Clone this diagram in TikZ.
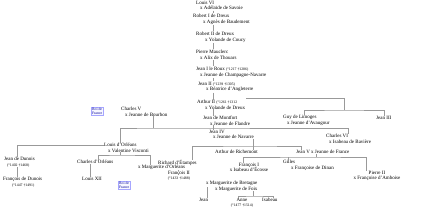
\documentclass[tikz,border=0pt]{standalone}
\usepackage{fontspec}
\setmainfont{Liberation Serif}
\begin{document}
\begin{tikzpicture}[x=1pt,y=-1pt,
  person/.style={font=\fontsize{5}{5.4}\selectfont,align=left,inner sep=0pt,anchor=north west,text=black},
  cperson/.style={font=\fontsize{5}{5.4}\selectfont,align=center,inner sep=0pt,anchor=north,text=black},
  roi/.style={draw=blue!35,fill=blue!3,text=blue!60!black,font=\fontsize{3.8}{4}\selectfont,align=center,inner sep=0.8pt,anchor=north west},
  link/.style={draw=black!40,line width=0.55pt}]
\useasboundingbox (0,0) rectangle (422,211);
\newcommand{\dt}[1]{{\fontsize{3.8}{3.8}\selectfont #1}}
% main chain
\node[person] (louis) at (196,1) {Louis VI\\\hspace*{4pt}x Adélaïde de Savoie};
\node[person] (rob1) at (193,14) {Robert I de Dreux\\\hspace*{10pt}x Agnès de Baudement};
\node[person] (rob2) at (196,32) {Robert II de Dreux\\\hspace*{9pt}x Yolande de Coucy};
\node[person] (pierre) at (196,50) {Pierre Mauclerc\\\hspace*{4pt}x Alix de Thouars};
\node[person] (jean1) at (196,67) {Jean I le Roux \dt{(°1217 †1286)}\\\hspace*{4pt}x Jeanne de Champagne-Navarre};
\node[person] (jean2) at (198,82) {Jean II \dt{(°1239 †1305)}\\\hspace*{8pt}x Béatrice d'Angleterre};
\node[person] (arthur) at (197,100) {Arthur II \dt{(°1261 †1312}\\\hspace*{8pt}x Yolande de Dreux};
\coordinate (cx) at (213,0);
\foreach \a/\b in {louis/rob1,rob1/rob2,rob2/pierre,pierre/jean1,jean1/jean2,jean2/arthur}
  \draw[link] ([yshift=-0.5pt]\a.south -| cx) -- ([yshift=0.5pt]\b.north -| cx);
% Arthur II right branch
\node[person] (guy) at (283,115) {Guy de Limoges\\\hspace*{4pt}x Jeanne d'Avaugour};
\node[person] (jean3) at (376,116) {Jean III};
\coordinate (bra) at (344,110);
\draw[link] ([xshift=1pt,yshift=2pt]arthur.north east) -| (bra);
\draw[link] (guy.north -| 304,0) |- (bra) -| (jean3.north -| 384,0);
% Charles V
\node[roi] (roi1) at (91,107) {Roi de\\France};
\node[person] (charles5) at (121,107) {Charles V\\\hspace*{4pt}x Jeanne de Bourbon};
\node[person] (montfort) at (203,116) {Jean de Montfort\\\hspace*{7pt}x Jeanne de Flandre};
\draw[link] (arthur.south -| cx) -- (montfort.north -| cx);
\node[person] (jean4) at (209,130) {Jean IV\\\hspace*{4pt}x Jeanne de Navarre};
\draw[link] (montfort.south -| cx) -- (jean4.north -| cx);
\node[person] (charles6) at (326,134) {Charles VI\\\hspace*{3pt}x Isabeau de Bavière};
\node[person] (louisorl) at (104,143) {Louis d'Orléans\\\hspace*{4pt}x Valentine Visconti};
\coordinate (c5) at (153,128);
\draw[link] (charles5.south -| c5) -- (c5);
\draw[link] (louisorl.north -| 120,0) |- (c5) -| (charles6.north -| 348,0);
% Dunois
\node[person] (dunois1) at (4,157) {Jean de Dunois\\\hspace*{3pt}\dt{(°1402 †1468)}};
\node[person] (dunois2) at (3,177) {François de Dunois\\\hspace*{9pt}\dt{(°1447 †1491)}};
\draw[link] ([yshift=-2.5pt]louisorl.north west) -| (dunois1.north -| 17,0);
\draw[link] (dunois1.south -| 17,0) -- (dunois2.north -| 17,0);
% Louis d'Orleans children
\node[person] (charlesorl) at (77,160) {Charles d'Orléans};
\node[person] (louis12) at (82,177) {Louis XII};
\node[roi] (roi2) at (118,181) {Roi de\\France};
\node[person] (richard) at (158,160) {Richard d'Étampes};
\node[person] (margorl) at (138,165) {x Marguerite d'Orléans};
\coordinate (lo) at (120,155);
\draw[link] (louisorl.south -| lo) -- (lo);
\draw[link] (charlesorl.north -| 98,0) |- (lo) -| (margorl.north -| 150,0);
\draw[link] (charlesorl.south -| 90,0) -- (louis12.north -| 90,0);
% Jean IV children
\node[person] (richemont) at (215,150) {Arthur de Richemont};
\node[person] (jean5) at (296,150) {Jean V x Jeanne de France};
\coordinate (j4) at (253,146);
\draw[link] (jean4.south -| j4) -- (richemont.north -| j4);
\draw[link] (richard.north -| 192,0) |- (j4) -| (jean5.north -| 301,0);
% Jean V children
\node[cperson] (francois1) at (249,163) {François I\\x Isabeau d'Écosse};
\node[person] (gilles) at (283,160) {Gilles\\\hspace*{8pt}x Françoise de Dinan};
\node[cperson] (pierre2) at (377,171) {Pierre II\\x Françoise d'Amboise};
\coordinate (j5) at (316,157);
\draw[link] (jean5.south -| j5) -- (j5);
\draw[link] (francois1.north -| 243,0) |- (j5) -| (pierre2.north -| 366,0);
\draw[link] (gilles.north -| 288,0) -- (288,157);
% Francois II
\node[cperson] (francois2) at (179,171) {François II\\\dt{(°1433 †1488)}};
\draw[link] (margorl.south -| 178,0) -- (francois2.north -| 178,0);
\node[person] (margs) at (206,181) {x Marguerite de Bretagne\\\hspace*{9pt}x Marguerite de Foix};
\node[person] (jeanb) at (199,198) {Jean};
\coordinate (mb) at (207,187);
\draw[link] (mb) -- (jeanb.north -| mb);
\node[cperson] (anne) at (242,198) {Anne\\\dt{(°1477 †1514)}};
\node[person] (isabeau) at (262,198) {Isabeau};
\coordinate (mf) at (253,196);
\draw[link] (margs.south -| mf) -- (mf);
\draw[link] (anne.north -| 238,0) |- (mf) -| (isabeau.north -| 273,0);
\end{tikzpicture}
\end{document}
